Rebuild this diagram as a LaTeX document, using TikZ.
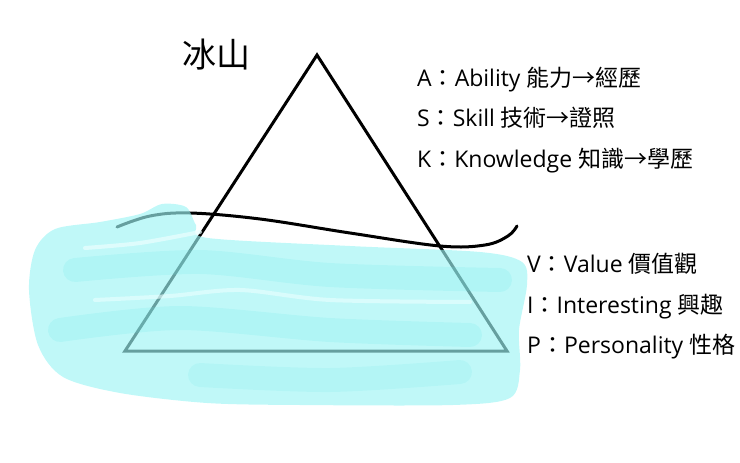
\documentclass[tikz,border=0pt]{standalone}
\usepackage{fontspec}
\setmainfont{Open Sans}
\newfontfamily\cjk{Noto Sans CJK TC}
\usetikzlibrary{positioning}
\definecolor{water}{RGB}{158,245,245}
\definecolor{waterdeep}{RGB}{110,230,230}
\definecolor{waterlight}{RGB}{235,255,255}

\tikzset{
  lbl/.style={font=\fontsize{23}{27}\selectfont, inner sep=0pt, anchor=base west},
  brush/.style={line width=24pt, line cap=round, line join=round}
}

\begin{document}
\begin{tikzpicture}[x=1pt,y=-1pt]
\useasboundingbox (0,0) rectangle (740,463);

% Iceberg
\draw[line width=3pt] (317,55) -- (507,351) -- (125,351) -- cycle;

% Sea level
\draw[line width=3pt,line cap=round] plot[smooth,tension=0.6] coordinates
  {(117,227) (150,216) (190,213) (260,219) (350,233) (440,246) (485,245) (508,236) (517,226)};

% Water
\fill[water,fill opacity=0.65] plot[smooth cycle,tension=0.5] coordinates
  {(29,290) (35,250) (55,229) (100,222) (140,214) (162,204) (186,207)
   (196,225) (208,238) (350,246) (480,252) (522,262) (527,285) (519,330)
   (520,370) (510,398) (453,405) (300,405) (207,403) (120,393) (63,377) (38,345)};
\draw[brush,waterdeep,draw opacity=0.18] plot[smooth] coordinates
  {(75,270) (200,262) (330,275) (500,280)};
\draw[brush,waterdeep,draw opacity=0.18] plot[smooth] coordinates
  {(60,330) (180,318) (330,330) (470,335)};
\draw[brush,waterdeep,draw opacity=0.15] plot[smooth] coordinates
  {(200,375) (330,380) (460,372)};
\draw[waterlight,line width=4pt,line cap=round,draw opacity=0.7] plot[smooth] coordinates
  {(85,248) (140,243) (200,232)};
\draw[waterlight,line width=4pt,line cap=round,draw opacity=0.6] plot[smooth] coordinates
  {(95,300) (170,296) (240,290) (330,300) (470,302)};

% Labels
\node[font=\cjk\fontsize{34}{40}\selectfont, inner sep=0pt] (title) at (216,55) {冰山};

\node[lbl] (ability) at (417,86) {A{\cjk ：}Ability {\cjk 能力→經歷}};
\node[lbl] (skill) at (417,126) {S{\cjk ：}Skill {\cjk 技術→證照}};
\node[lbl] (knowledge) at (417,167) {K{\cjk ：}Knowledge {\cjk 知識→學歷}};

\node[lbl] (value) at (527,272) {V{\cjk ：}Value {\cjk 價值觀}};
\node[lbl] (interest) at (527,313) {I{\cjk ：}Interesting {\cjk 興趣}};
\node[lbl] (personality) at (527,353) {P{\cjk ：}Personality {\cjk 性格}};
\end{tikzpicture}
\end{document}
